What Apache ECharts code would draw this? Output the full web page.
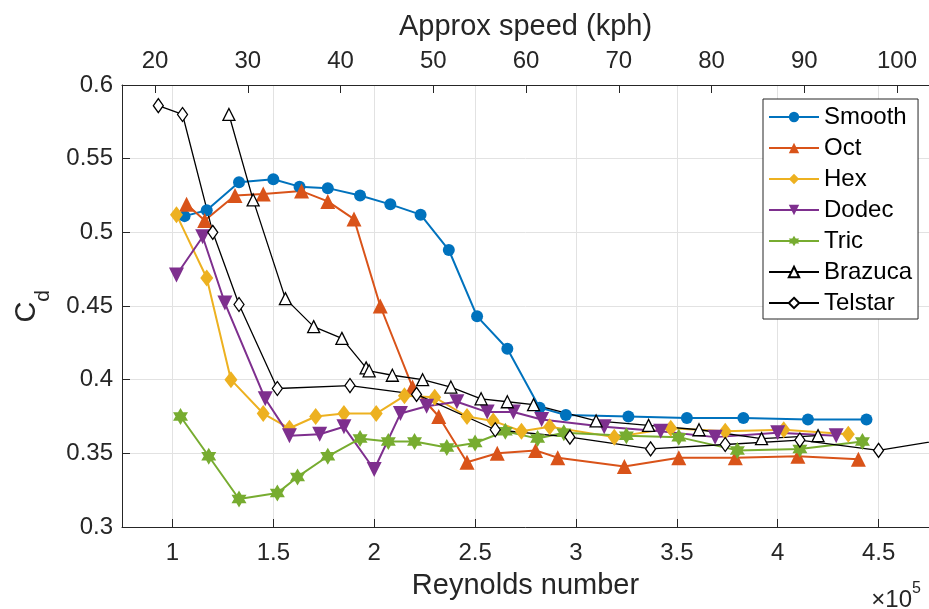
<!DOCTYPE html>
<html>
<head>
<meta charset="UTF-8">
<title>Cd vs Reynolds number</title>
<script src="https://cdn.jsdelivr.net/npm/echarts@6/dist/echarts.min.js"></script>
<style>html,body{margin:0;padding:0;background:#fff}</style>
</head>
<body>
<div id="main" style="width:929px;height:609px"></div>
<script>
// Reynolds number in units of 1e5, drag coefficient Cd
var smoothRe = [1.06, 1.17, 1.33, 1.50, 1.63, 1.77, 1.93, 2.08, 2.23, 2.37, 2.51, 2.66, 2.82, 2.95, 3.26, 3.55, 3.83, 4.15, 4.44];
var smoothCd = [0.511, 0.515, 0.534, 0.536, 0.531, 0.530, 0.525, 0.519, 0.512, 0.488, 0.443, 0.421, 0.381, 0.376, 0.375, 0.374, 0.374, 0.373, 0.373];

var octRe = [1.07, 1.16, 1.31, 1.45, 1.64, 1.77, 1.90, 2.03, 2.19, 2.32, 2.46, 2.61, 2.80, 2.91, 3.24, 3.51, 3.79, 4.10, 4.40];
var octCd = [0.519, 0.508, 0.525, 0.526, 0.528, 0.521, 0.509, 0.450, 0.395, 0.375, 0.344, 0.350, 0.352, 0.347, 0.341, 0.347, 0.347, 0.348, 0.346];

var hexRe = [1.02, 1.17, 1.29, 1.45, 1.58, 1.71, 1.85, 2.01, 2.15, 2.30, 2.46, 2.59, 2.73, 2.87, 3.19, 3.47, 3.74, 4.03, 4.35];
var hexCd = [0.512, 0.469, 0.400, 0.377, 0.367, 0.375, 0.377, 0.377, 0.389, 0.388, 0.375, 0.372, 0.365, 0.368, 0.361, 0.367, 0.365, 0.366, 0.363];

var dodecRe = [1.02, 1.15, 1.26, 1.46, 1.58, 1.73, 1.85, 2.00, 2.13, 2.26, 2.41, 2.56, 2.69, 2.83, 3.14, 3.42, 3.69, 4.00, 4.29];
var dodecCd = [0.471, 0.497, 0.452, 0.387, 0.362, 0.363, 0.368, 0.339, 0.377, 0.382, 0.385, 0.378, 0.378, 0.373, 0.368, 0.365, 0.361, 0.364, 0.362];

var tricRe = [1.04, 1.18, 1.33, 1.52, 1.62, 1.77, 1.93, 2.07, 2.20, 2.36, 2.50, 2.65, 2.81, 2.94, 3.25, 3.51, 3.80, 4.11, 4.42];
var tricCd = [0.375, 0.348, 0.319, 0.323, 0.334, 0.348, 0.360, 0.358, 0.358, 0.354, 0.357, 0.365, 0.360, 0.364, 0.362, 0.361, 0.352, 0.353, 0.358];

var brazucaRe = [1.28, 1.40, 1.56, 1.70, 1.84, 1.96, 1.975, 2.09, 2.24, 2.38, 2.53, 2.66, 2.79, 3.10, 3.36, 3.61, 3.92, 4.20];
var brazucaCd = [0.580, 0.522, 0.455, 0.436, 0.428, 0.408, 0.406, 0.403, 0.400, 0.395, 0.387, 0.385, 0.383, 0.372, 0.369, 0.366, 0.360, 0.362];

var telstarRe = [0.93, 1.05, 1.20, 1.33, 1.52, 1.88, 2.21, 2.60, 2.97, 3.37, 3.74, 4.11, 4.50, 4.95];
var telstarCd = [0.586, 0.580, 0.500, 0.451, 0.394, 0.396, 0.390, 0.366, 0.361, 0.353, 0.356, 0.359, 0.352, 0.362];

var reTicks = [1, 1.5, 2, 2.5, 3, 3.5, 4, 4.5];
var speedTicks = [20, 30, 40, 50, 60, 70, 80, 90, 100];

var FONT = 'Liberation Sans';
var AXIS = '#262626';

function pairs(xs, ys) {
  return xs.map(function (x, i) { return [x, ys[i]]; });
}

var hexagram = 'path://M100,0L128.9,50L186.6,50L157.7,100L186.6,150L128.9,150L100,200L71.1,150L13.4,150L42.3,100L13.4,50L71.1,50Z';

function filled(name, re, cd, color, symbol, size, rotate) {
  return {
    name: name, type: 'line', data: pairs(re, cd),
    symbol: symbol, symbolSize: size, symbolRotate: rotate || 0,
    lineStyle: {color: color, width: 2},
    itemStyle: {color: color, borderWidth: 0},
    emphasis: {disabled: true}
  };
}
function open(name, re, cd, symbol, size) {
  return {
    name: name, type: 'line', data: pairs(re, cd),
    symbol: symbol, symbolSize: size,
    lineStyle: {color: '#000', width: 1.3},
    itemStyle: {color: '#fff', borderColor: '#000', borderWidth: 1.3},
    emphasis: {disabled: true}
  };
}

var myChart = echarts.init(document.getElementById('main'));
myChart.setOption({
  animation: false,
  textStyle: {fontFamily: FONT},
  grid: {left: 122, right: 0, top: 85, bottom: 82, containLabel: false, outerBoundsMode: 'none'},
  legend: {
    orient: 'vertical', left: 763, top: 99,
    itemWidth: 50, itemHeight: 13, itemGap: 7,
    padding: [6, 6, 4, 5],
    borderColor: AXIS, borderWidth: 1, borderRadius: 0, backgroundColor: '#fff',
    textStyle: {fontSize: 24, color: '#000', fontFamily: FONT},
    data: ['Smooth', 'Oct', 'Hex', 'Dodec', 'Tric', 'Brazuca', 'Telstar']
  },
  xAxis: [{
    type: 'value', position: 'bottom', min: 0.75, max: 4.75,
    name: 'Reynolds number', nameLocation: 'middle', nameGap: 44,
    nameTextStyle: {fontSize: 29, color: AXIS, fontFamily: FONT},
    axisLine: {onZero: false, lineStyle: {color: AXIS, width: 1}},
    axisTick: {inside: true, length: 8, customValues: reTicks, lineStyle: {color: AXIS}},
    axisLabel: {customValues: reTicks, fontSize: 24, color: AXIS, margin: 14, fontFamily: FONT},
    splitLine: {show: true, lineStyle: {color: '#e2e2e2', width: 1}}
  }, {
    type: 'value', position: 'top', min: 16.44, max: 103.45,
    name: 'Approx speed (kph)', nameLocation: 'middle', nameGap: 44,
    nameTextStyle: {fontSize: 29, color: AXIS, fontFamily: FONT},
    axisLine: {onZero: false, lineStyle: {color: AXIS, width: 1}},
    axisTick: {inside: true, length: 8, customValues: speedTicks, lineStyle: {color: AXIS}},
    axisLabel: {customValues: speedTicks, fontSize: 24, color: AXIS, margin: 12, fontFamily: FONT},
    splitLine: {show: false}
  }],
  yAxis: {
    type: 'value', min: 0.3, max: 0.6, interval: 0.05,
    axisLine: {show: true, onZero: false, lineStyle: {color: AXIS, width: 1}},
    axisTick: {show: true, inside: true, length: 8, lineStyle: {color: AXIS}},
    axisLabel: {fontSize: 24, color: AXIS, margin: 9, fontFamily: FONT,
      formatter: function (v) { return String(parseFloat(v.toFixed(2))); }},
    splitLine: {show: true, lineStyle: {color: '#e2e2e2', width: 1}}
  },
  graphic: [
    {type: 'text', x: 27, y: 312, rotation: Math.PI / 2,
      style: {text: 'C', fontSize: 29, fontFamily: FONT, fill: AXIS, align: 'center', verticalAlign: 'middle'}},
    {type: 'text', x: 43, y: 296, rotation: Math.PI / 2,
      style: {text: 'd', fontSize: 21, fontFamily: FONT, fill: AXIS, align: 'center', verticalAlign: 'middle'}},
    {type: 'text', x: 912, y: 612,
      style: {text: '×10', fontSize: 24, fontFamily: FONT, fill: AXIS, align: 'right', verticalAlign: 'bottom'}},
    {type: 'text', x: 912, y: 597,
      style: {text: '5', fontSize: 16, fontFamily: FONT, fill: AXIS, align: 'left', verticalAlign: 'bottom'}}
  ],
  series: [
    filled('Smooth', smoothRe, smoothCd, '#0072BD', 'circle', 12),
    filled('Oct', octRe, octCd, '#D95319', 'triangle', 15),
    filled('Hex', hexRe, hexCd, '#EDB120', 'diamond', [13, 17]),
    filled('Dodec', dodecRe, dodecCd, '#7E2F8E', 'triangle', 15, 180),
    filled('Tric', tricRe, tricCd, '#77AC30', hexagram, [15, 17]),
    open('Brazuca', brazucaRe, brazucaCd, 'triangle', 12),
    open('Telstar', telstarRe, telstarCd, 'diamond', [10, 14])
  ]
});
</script>
</body>
</html>
